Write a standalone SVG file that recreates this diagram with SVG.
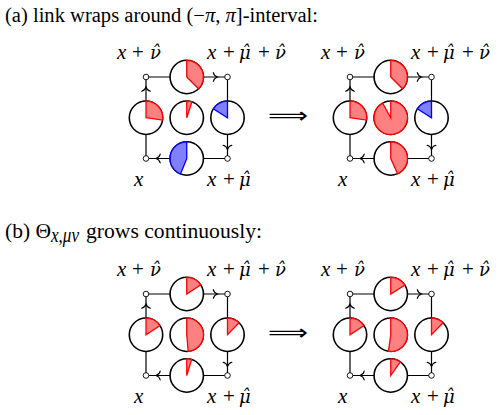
<svg xmlns="http://www.w3.org/2000/svg" xmlns:xlink="http://www.w3.org/1999/xlink" width="501" height="415" viewBox="0 0 501 415">
<style>
  .t { font-family: "Liberation Serif", "DejaVu Serif", serif; font-size: 20px; fill: #000; }
  .m { font-family: "Liberation Serif", "DejaVu Serif", serif; font-size: 21px; fill: #000; }
  .i { font-style: italic; }
  .g { font-family: "DejaVu Serif", serif; font-style: italic; font-size: 18px; }
  .edge { fill: none; stroke: #000; stroke-width: 1.2; }
  .arr { fill: none; stroke: #000; stroke-width: 1.1; stroke-linecap: round; }
  .link { fill: #fff; stroke: #000; stroke-width: 1.6; }
  .site { fill: #fff; stroke: #000; stroke-width: 0.9; }
  .wr { fill: #ff8080; stroke: #ff0000; stroke-width: 1.3; }
  .wb { fill: #8080ff; stroke: #0000ff; stroke-width: 1.3; }
  .impl { font-family: "DejaVu Sans", sans-serif; font-size: 22px; }
</style>
<defs>
  <path id="ah" d="M-4.2,-4.4 C-3.6,-1.8 -1.4,-0.45 0,0 C-1.4,0.45 -3.6,1.8 -4.2,4.4"/>
</defs>

<!-- titles -->
<text class="t" x="5" y="22" textLength="313" lengthAdjust="spacingAndGlyphs">(a) link wraps around (−<tspan class="i">π</tspan>, <tspan class="i">π</tspan>]-interval:</text>
<text class="t" x="5" y="238" font-size="21" textLength="46" lengthAdjust="spacingAndGlyphs">(b) Θ</text>
<text class="t i" x="51" y="242" font-size="14" textLength="28" lengthAdjust="spacingAndGlyphs">x,μν</text>
<text class="t" x="86" y="238" font-size="21" textLength="176" lengthAdjust="spacingAndGlyphs">grows continuously:</text>

<!-- connectors -->
<g id="connectors">
  <path class="edge" d="M146,77 H227.5 V158.5 H146 Z"/>
  <path class="edge" d="M350,77 H431.5 V158.5 H350 Z"/>
  <path class="edge" d="M146,294 H227.5 V375.5 H146 Z"/>
  <path class="edge" d="M350,294 H431.5 V375.5 H350 Z"/>
  <g class="arr">
    <use xlink:href="#ah" transform="translate(146,87) rotate(-90)"/>
    <use xlink:href="#ah" transform="translate(217.5,77)"/>
    <use xlink:href="#ah" transform="translate(227.5,149.5) rotate(90)"/>
    <use xlink:href="#ah" transform="translate(156,158.5) rotate(180)"/>
    <use xlink:href="#ah" transform="translate(350,87) rotate(-90)"/>
    <use xlink:href="#ah" transform="translate(421.5,77)"/>
    <use xlink:href="#ah" transform="translate(431.5,149.5) rotate(90)"/>
    <use xlink:href="#ah" transform="translate(360,158.5) rotate(180)"/>
    <use xlink:href="#ah" transform="translate(146,304) rotate(-90)"/>
    <use xlink:href="#ah" transform="translate(217.5,294)"/>
    <use xlink:href="#ah" transform="translate(227.5,366.5) rotate(90)"/>
    <use xlink:href="#ah" transform="translate(156,375.5) rotate(180)"/>
    <use xlink:href="#ah" transform="translate(350,304) rotate(-90)"/>
    <use xlink:href="#ah" transform="translate(421.5,294)"/>
    <use xlink:href="#ah" transform="translate(431.5,366.5) rotate(90)"/>
    <use xlink:href="#ah" transform="translate(360,375.5) rotate(180)"/>
  </g>
</g>

<!-- implication arrows -->
<text class="impl" x="268" y="123" textLength="40" lengthAdjust="spacingAndGlyphs">⟹</text>
<text class="impl" x="268" y="340" textLength="40" lengthAdjust="spacingAndGlyphs">⟹</text>

<!-- panel a, left -->
<g id="a1-top"><circle class="link" cx="186.75" cy="77" r="16.7"/><path class="wr" d="M186.75,77 V60.3 A16.7,16.7 0 0 1 198.56,88.81 Z"/></g>
<g id="a1-left"><circle class="link" cx="146" cy="117.75" r="16.7"/><path class="wr" d="M146,117.75 V101.05 A16.7,16.7 0 0 1 162.54,120.07 Z"/></g>
<g id="a1-center"><circle class="link" cx="186.75" cy="117.75" r="16.7"/><path class="wr" d="M186.75,117.75 V101.05 A16.7,16.7 0 0 1 191.91,101.87 Z"/></g>
<g id="a1-right"><circle class="link" cx="227.5" cy="117.75" r="16.7"/><path class="wb" d="M227.5,117.75 V101.05 A16.7,16.7 0 0 0 213.34,108.9 Z"/></g>
<g id="a1-bottom"><circle class="link" cx="186.75" cy="158.5" r="16.7"/><path class="wb" d="M186.75,158.5 V141.8 A16.7,16.7 0 0 0 180.49,173.98 Z"/></g>

<!-- panel a, right -->
<g id="a2-top"><circle class="link" cx="390.75" cy="77" r="16.7"/><path class="wr" d="M390.75,77 V60.3 A16.7,16.7 0 0 1 402.56,88.81 Z"/></g>
<g id="a2-left"><circle class="link" cx="350" cy="117.75" r="16.7"/><path class="wr" d="M350,117.75 V101.05 A16.7,16.7 0 0 1 366.54,120.07 Z"/></g>
<g id="a2-center"><circle class="link" cx="390.75" cy="117.75" r="16.7"/><path class="wr" d="M390.75,117.75 V101.05 A16.7,16.7 0 1 1 382.65,103.14 Z"/></g>
<g id="a2-right"><circle class="link" cx="431.5" cy="117.75" r="16.7"/><path class="wb" d="M431.5,117.75 V101.05 A16.7,16.7 0 0 0 417.34,108.9 Z"/></g>
<g id="a2-bottom"><circle class="link" cx="390.75" cy="158.5" r="16.7"/><path class="wr" d="M390.75,158.5 V141.8 A16.7,16.7 0 0 1 397.54,173.76 Z"/></g>

<!-- panel b, left -->
<g id="b1-top"><circle class="link" cx="186.75" cy="294" r="16.7"/><path class="wr" d="M186.75,294 V277.3 A16.7,16.7 0 0 1 200.76,284.91 Z"/></g>
<g id="b1-left"><circle class="link" cx="146" cy="334.75" r="16.7"/><path class="wr" d="M146,334.75 V318.05 A16.7,16.7 0 0 1 160.01,325.66 Z"/></g>
<g id="b1-center"><circle class="link" cx="186.75" cy="334.75" r="16.7"/><path class="wr" d="M186.75,334.75 V318.05 A16.7,16.7 0 0 1 188.21,351.39 Z"/></g>
<g id="b1-right"><circle class="link" cx="227.5" cy="334.75" r="16.7"/><path class="wr" d="M227.5,334.75 V318.05 A16.7,16.7 0 0 1 239.10,322.74 Z"/></g>
<g id="b1-bottom"><circle class="link" cx="186.75" cy="375.5" r="16.7"/><path class="wr" d="M186.75,375.5 V358.8 A16.7,16.7 0 0 1 191.63,359.53 Z"/></g>

<!-- panel b, right -->
<g id="b2-top"><circle class="link" cx="390.75" cy="294" r="16.7"/><path class="wr" d="M390.75,294 V277.3 A16.7,16.7 0 0 1 404.91,285.15 Z"/></g>
<g id="b2-left"><circle class="link" cx="350" cy="334.75" r="16.7"/><path class="wr" d="M350,334.75 V318.05 A16.7,16.7 0 0 1 364.01,325.66 Z"/></g>
<g id="b2-center"><circle class="link" cx="390.75" cy="334.75" r="16.7"/><path class="wr" d="M390.75,334.75 V318.05 A16.7,16.7 0 1 1 388.43,351.29 Z"/></g>
<g id="b2-right"><circle class="link" cx="431.5" cy="334.75" r="16.7"/><path class="wr" d="M431.5,334.75 V318.05 A16.7,16.7 0 0 1 443.10,322.74 Z"/></g>
<g id="b2-bottom"><circle class="link" cx="390.75" cy="375.5" r="16.7"/><path class="wr" d="M390.75,375.5 V358.8 A16.7,16.7 0 0 1 400.33,361.82 Z"/></g>

<!-- sites and labels -->
<g id="site-a1-x"><circle class="site" cx="146" cy="158.5" r="2.8"/><text class="m i" x="134" y="186">x</text></g>
<g id="site-a1-xmu"><circle class="site" cx="227.5" cy="158.5" r="2.8"/><text class="m" y="186"><tspan class="i" x="207">x</tspan><tspan x="223">+</tspan><tspan class="g" x="239">μ̂</tspan></text></g>
<g id="site-a1-xnu"><circle class="site" cx="146" cy="77" r="2.8"/><text class="m" y="59"><tspan class="i" x="117">x</tspan><tspan x="132">+</tspan><tspan class="g" x="150">ν̂</tspan></text></g>
<g id="site-a1-xmunu"><circle class="site" cx="227.5" cy="77" r="2.8"/><text class="m" y="59"><tspan class="i" x="207">x</tspan><tspan x="223">+</tspan><tspan class="g" x="239">μ̂</tspan><tspan x="258">+</tspan><tspan class="g" x="275">ν̂</tspan></text></g>

<g id="site-a2-x"><circle class="site" cx="350" cy="158.5" r="2.8"/><text class="m i" x="338" y="186">x</text></g>
<g id="site-a2-xmu"><circle class="site" cx="431.5" cy="158.5" r="2.8"/><text class="m" y="186"><tspan class="i" x="411">x</tspan><tspan x="427">+</tspan><tspan class="g" x="443">μ̂</tspan></text></g>
<g id="site-a2-xnu"><circle class="site" cx="350" cy="77" r="2.8"/><text class="m" y="59"><tspan class="i" x="321">x</tspan><tspan x="336">+</tspan><tspan class="g" x="354">ν̂</tspan></text></g>
<g id="site-a2-xmunu"><circle class="site" cx="431.5" cy="77" r="2.8"/><text class="m" y="59"><tspan class="i" x="411">x</tspan><tspan x="427">+</tspan><tspan class="g" x="443">μ̂</tspan><tspan x="462">+</tspan><tspan class="g" x="479">ν̂</tspan></text></g>

<g id="site-b1-x"><circle class="site" cx="146" cy="375.5" r="2.8"/><text class="m i" x="134" y="403">x</text></g>
<g id="site-b1-xmu"><circle class="site" cx="227.5" cy="375.5" r="2.8"/><text class="m" y="403"><tspan class="i" x="207">x</tspan><tspan x="223">+</tspan><tspan class="g" x="239">μ̂</tspan></text></g>
<g id="site-b1-xnu"><circle class="site" cx="146" cy="294" r="2.8"/><text class="m" y="276"><tspan class="i" x="117">x</tspan><tspan x="132">+</tspan><tspan class="g" x="150">ν̂</tspan></text></g>
<g id="site-b1-xmunu"><circle class="site" cx="227.5" cy="294" r="2.8"/><text class="m" y="276"><tspan class="i" x="207">x</tspan><tspan x="223">+</tspan><tspan class="g" x="239">μ̂</tspan><tspan x="258">+</tspan><tspan class="g" x="275">ν̂</tspan></text></g>

<g id="site-b2-x"><circle class="site" cx="350" cy="375.5" r="2.8"/><text class="m i" x="338" y="403">x</text></g>
<g id="site-b2-xmu"><circle class="site" cx="431.5" cy="375.5" r="2.8"/><text class="m" y="403"><tspan class="i" x="411">x</tspan><tspan x="427">+</tspan><tspan class="g" x="443">μ̂</tspan></text></g>
<g id="site-b2-xnu"><circle class="site" cx="350" cy="294" r="2.8"/><text class="m" y="276"><tspan class="i" x="321">x</tspan><tspan x="336">+</tspan><tspan class="g" x="354">ν̂</tspan></text></g>
<g id="site-b2-xmunu"><circle class="site" cx="431.5" cy="294" r="2.8"/><text class="m" y="276"><tspan class="i" x="411">x</tspan><tspan x="427">+</tspan><tspan class="g" x="443">μ̂</tspan><tspan x="462">+</tspan><tspan class="g" x="479">ν̂</tspan></text></g>
</svg>
